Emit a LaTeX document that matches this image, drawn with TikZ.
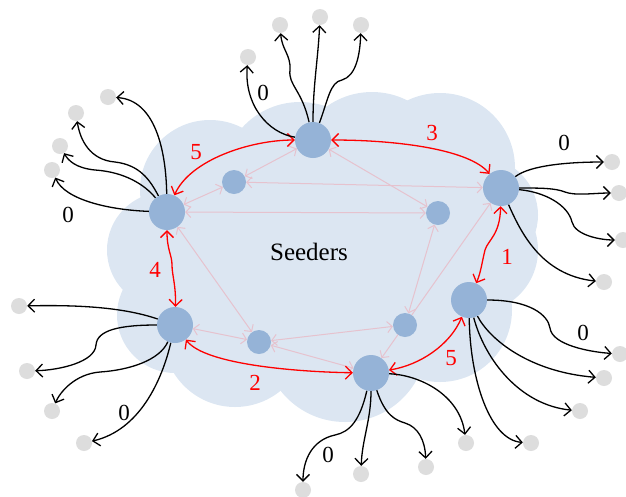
\documentclass[tikz,border=0pt]{standalone}
\usepackage{fontspec}
\setmainfont{Liberation Serif}
\usetikzlibrary{arrows.meta}
\definecolor{cloudc}{HTML}{DCE6F2}
\definecolor{seedc}{HTML}{95B3D7}
\definecolor{leafc}{HTML}{DDDDDD}
\definecolor{pinkc}{HTML}{E6C2CE}
\pgfdeclarelayer{bg}
\pgfdeclarelayer{edges}
\pgfsetlayers{bg,edges,main}
\begin{document}
\begin{tikzpicture}[x=1pt,y=-1pt,
  seed/.style={circle,fill=seedc,minimum size=36pt,inner sep=0pt},
  small/.style={circle,fill=seedc,minimum size=24pt,inner sep=0pt},
  leaf/.style={circle,fill=leafc,minimum size=16pt,inner sep=0pt},
  pk/.style={draw=pinkc,line width=1pt,{Straight Barb[length=5pt,width=11pt]}-{Straight Barb[length=5pt,width=11pt]}},
  rd/.style={draw=red,line width=1.3pt,{Straight Barb[length=6.5pt,width=13pt]}-{Straight Barb[length=6.5pt,width=13pt]}},
  bk/.style={draw=black,line width=1.3pt,-{Straight Barb[length=6.5pt,width=13pt]}},
  num/.style={font=\fontsize{23}{23}\selectfont},
  rnum/.style={num,text=red},
]
\useasboundingbox (0,0) rectangle (626,496);
% cloud
\begin{pgfonlayer}{bg}
\fill[cloudc] (210,190) circle[radius=70];
\fill[cloudc] (300,180) circle[radius=78];
\fill[cloudc] (372,170) circle[radius=78];
\fill[cloudc] (440,168) circle[radius=75];
\fill[cloudc] (480,215) circle[radius=58];
\fill[cloudc] (475,250) circle[radius=63];
\fill[cloudc] (165,250) circle[radius=58];
\fill[cloudc] (175,315) circle[radius=58];
\fill[cloudc] (235,335) circle[radius=72];
\fill[cloudc] (345,340) circle[radius=82];
\fill[cloudc] (440,310) circle[radius=72];
\fill[cloudc] (320,260) circle[radius=130];
\end{pgfonlayer}
% seeders
\node[seed] (t) at (313,140) {};
\node[seed] (r) at (501,188) {};
\node[seed] (rb) at (469,300) {};
\node[seed] (bb) at (371,373) {};
\node[seed] (l) at (175,325) {};
\node[seed] (lt) at (167,212) {};
\node[small] (sa) at (234,182) {};
\node[small] (sb) at (438,213) {};
\node[small] (sc) at (259,342) {};
\node[small] (sd) at (405,325) {};
% leaves
\node[leaf] (t1) at (248,57) {};
\node[leaf] (t2) at (280,25) {};
\node[leaf] (t3) at (320,17) {};
\node[leaf] (t4) at (361,25) {};
\node[leaf] (lt1) at (108,97) {};
\node[leaf] (lt2) at (76,113) {};
\node[leaf] (lt3) at (60,146) {};
\node[leaf] (lt4) at (52,170) {};
\node[leaf] (r1) at (612,162) {};
\node[leaf] (r2) at (619,193) {};
\node[leaf] (r3) at (623,240) {};
\node[leaf] (r4) at (604,282) {};
\node[leaf] (rb1) at (620,354) {};
\node[leaf] (rb2) at (604,378) {};
\node[leaf] (rb3) at (580,411) {};
\node[leaf] (rb4) at (531,443) {};
\node[leaf] (b1) at (466,443) {};
\node[leaf] (b2) at (426,467) {};
\node[leaf] (b3) at (361,474) {};
\node[leaf] (b4) at (303,490) {};
\node[leaf] (l1) at (19,306) {};
\node[leaf] (l2) at (27,371) {};
\node[leaf] (l3) at (52,411) {};
\node[leaf] (l4) at (84,443) {};
% text
\node[font=\fontsize{25}{25}\selectfont] (seedlbl) at (309,252) {Seeders};
\node[rnum] (n5a) at (196,152) {5};
\node[rnum] (n3) at (432,133) {3};
\node[rnum] (n1) at (507,257) {1};
\node[rnum] (n4) at (155,270) {4};
\node[rnum] (n2) at (255,383) {2};
\node[rnum] (n5b) at (451,358) {5};
\node[num] (z1) at (263,93) {0};
\node[num] (z2) at (564,143) {0};
\node[num] (z3) at (68,215) {0};
\node[num] (z4) at (583,333) {0};
\node[num] (z5) at (124,413) {0};
\node[num] (z6) at (328,455) {0};
\begin{pgfonlayer}{edges}
% pink links
\draw[pk] (sa) -- (t);
\draw[pk] (sa) -- (r);
\draw[pk] (sa) -- (lt);
\draw[pk] (lt) -- (sb);
\draw[pk] (t) -- (sb);
\draw[pk] (sb) -- (sd);
\draw[pk] (r) -- (bb);
\draw[pk] (lt) -- (sc);
\draw[pk] (l) -- (sc);
\draw[pk] (sc) -- (sd);
\draw[pk] (sc) -- (bb);
% red links
\draw[rd] (t) .. controls (250,140) and (190,160) .. (lt);
\draw[rd] (t) .. controls (400,140) and (470,150) .. (r);
\draw[rd] (r) .. controls (500,235) and (488,240) .. (485,250) .. controls (482,262) and (481,272) .. (rb);
\draw[rd] (lt) .. controls (167,250) and (172,255) .. (172,265) .. controls (172,275) and (176,285) .. (l);
\draw[rd] (l) .. controls (205,365) and (300,372) .. (bb);
\draw[rd] (bb) .. controls (420,365) and (450,345) .. (rb);
% black links: top
\draw[bk] (t) .. controls (268,133) and (244,105) .. (t1);
\draw[bk] (t) .. controls (302,90) and (288,85) .. (290,70) .. controls (291,55) and (282,50) .. (t2);
\draw[bk] (t) .. controls (313,85) and (318,60) .. (t3);
\draw[bk] (t) .. controls (328,100) and (330,82) .. (342,80) .. controls (356,76) and (360,55) .. (t4);
% left top
\draw[bk] (lt) .. controls (166,150) and (155,100) .. (lt1);
\draw[bk] (lt) .. controls (150,180) and (140,165) .. (115,162) .. controls (90,160) and (80,140) .. (lt2);
\draw[bk] (lt) .. controls (145,185) and (125,172) .. (95,170) .. controls (75,168) and (68,160) .. (lt3);
\draw[bk] (lt) .. controls (110,210) and (65,200) .. (lt4);
% right
\draw[bk] (r) .. controls (530,165) and (570,162) .. (r1);
\draw[bk] (r) .. controls (540,188) and (555,188) .. (565,192) .. controls (575,196) and (595,193) .. (r2);
\draw[bk] (r) .. controls (545,192) and (568,205) .. (572,222) .. controls (575,235) and (600,240) .. (r3);
\draw[bk] (r) .. controls (520,230) and (540,275) .. (r4);
% right bottom
\draw[bk] (rb) .. controls (530,300) and (548,315) .. (550,328) .. controls (552,345) and (590,352) .. (rb1);
\draw[bk] (rb) .. controls (490,340) and (530,372) .. (rb2);
\draw[bk] (rb) .. controls (485,360) and (520,405) .. (rb3);
\draw[bk] (rb) .. controls (470,380) and (490,440) .. (rb4);
% bottom
\draw[bk] (bb) .. controls (420,375) and (460,395) .. (b1);
\draw[bk] (bb) .. controls (385,415) and (395,420) .. (405,423) .. controls (418,427) and (425,440) .. (b2);
\draw[bk] (bb) .. controls (371,420) and (362,440) .. (b3);
\draw[bk] (bb) .. controls (360,420) and (350,432) .. (335,435) .. controls (312,440) and (303,460) .. (b4);
% left
\draw[bk] (l) .. controls (120,306) and (70,305) .. (l1);
\draw[bk] (l) .. controls (120,325) and (97,330) .. (96,345) .. controls (95,362) and (60,370) .. (l2);
\draw[bk] (l) .. controls (160,360) and (130,370) .. (100,372) .. controls (75,374) and (60,392) .. (l3);
\draw[bk] (l) .. controls (162,380) and (140,430) .. (l4);
\end{pgfonlayer}
\end{tikzpicture}
\end{document}
